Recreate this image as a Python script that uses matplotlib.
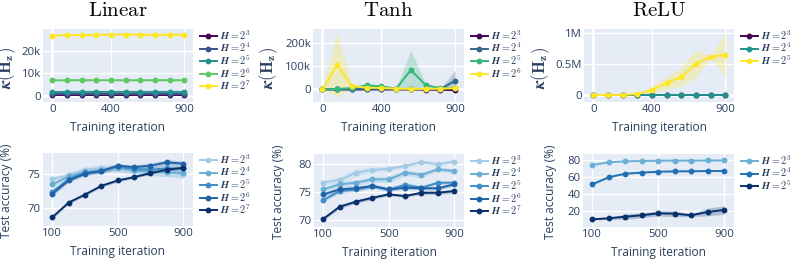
import numpy as np
import matplotlib.pyplot as plt
from matplotlib.ticker import FuncFormatter

plt.rcParams['font.family'] = ['Open Sans', 'DejaVu Sans']
plt.rcParams['mathtext.fontset'] = 'cm'

TXT = '#2a3f5f'
BG = '#e5ecf6'

# x values
it_kappa = [0, 100, 200, 300, 400, 500, 600, 700, 800, 900]
it_acc = [100, 200, 300, 400, 500, 600, 700, 800, 900]

# Linear - condition number
lin_kappa_labels = ['3', '4', '5', '6', '7']
lin_kappa_mean = [
    [300, 300, 300, 300, 300, 300, 300, 300, 300, 300],
    [1000, 1000, 1000, 1000, 1000, 1000, 1000, 1000, 1000, 1000],
    [1700, 1800, 1800, 1800, 1800, 1800, 1800, 1800, 1800, 1800],
    [6900, 7000, 7000, 7000, 7000, 7000, 7000, 7000, 7000, 7000],
    [26700, 27200, 27000, 27200, 27300, 27300, 27300, 27200, 27300, 27200],
]
lin_kappa_sd = [
    [50] * 10,
    [100] * 10,
    [150] * 10,
    [200] * 10,
    [300] * 10,
]

# Linear - accuracy
lin_acc_labels = ['3', '4', '5', '6', '7']
lin_acc_mean = [
    [74.3, 74.9, 75.7, 76.0, 75.9, 75.6, 75.5, 75.4, 75.0],
    [73.5, 74.7, 75.3, 75.7, 76.0, 75.6, 75.4, 75.3, 75.2],
    [72.4, 74.3, 75.3, 75.5, 76.2, 75.8, 75.7, 75.9, 75.9],
    [72.1, 74.1, 75.1, 75.5, 76.3, 76.1, 76.3, 76.8, 76.6],
    [68.6, 70.8, 72.0, 73.3, 74.1, 74.6, 75.2, 75.7, 76.0],
]
lin_acc_sd = [
    [0.4, 0.4, 0.5, 0.5, 0.6, 0.6, 0.6, 0.7, 0.7],
    [0.4, 0.4, 0.4, 0.5, 0.5, 0.5, 0.6, 0.6, 0.6],
    [0.3, 0.3, 0.3, 0.4, 0.4, 0.4, 0.4, 0.5, 0.5],
    [0.3, 0.3, 0.3, 0.3, 0.3, 0.3, 0.4, 0.4, 0.4],
    [0.2, 0.2, 0.2, 0.2, 0.2, 0.2, 0.2, 0.2, 0.2],
]

# Tanh - condition number
tanh_kappa_labels = ['3', '4', '5', '6']
tanh_kappa_mean = [
    [0, -500, -500, -500, -500, -500, -500, -1000, -1500, -3000],
    [0, 500, 500, 1000, 1000, 1000, 1000, 1000, 1000, 37000],
    [0, 2000, 5000, 17000, 13000, 3000, 83000, 18000, 5000, 5000],
    [0, 104000, 14000, 7000, 6000, 3000, 2000, 2000, 3000, 5000],
]
tanh_kappa_sd = [
    [0, 500, 500, 500, 500, 500, 500, 1000, 1000, 2000],
    [0, 1000, 1000, 1000, 1000, 1000, 1000, 1000, 2000, 45000],
    [0, 2000, 3000, 8000, 5000, 2000, 84000, 5000, 2000, 3000],
    [0, 136000, 5000, 3000, 3000, 2000, 1000, 1000, 2000, 3000],
]

# Tanh - accuracy
tanh_acc_labels = ['3', '4', '5', '6', '7']
tanh_acc_mean = [
    [76.7, 77.2, 78.5, 79.0, 79.2, 79.7, 80.4, 80.0, 80.5],
    [75.5, 76.4, 76.7, 77.3, 77.3, 78.5, 78.1, 79.1, 78.8],
    [73.6, 75.2, 75.5, 76.1, 75.5, 76.3, 75.8, 76.7, 76.7],
    [74.6, 75.5, 75.7, 76.1, 75.5, 75.8, 75.7, 75.7, 76.4],
    [70.2, 72.4, 73.3, 74.0, 74.6, 74.3, 74.9, 74.9, 75.2],
]
tanh_acc_sd = [
    [0.4, 0.6, 0.7, 0.5, 0.5, 0.4, 0.4, 0.4, 0.4],
    [0.4, 0.5, 0.5, 0.5, 0.6, 0.5, 0.5, 0.4, 0.4],
    [0.3, 0.4, 0.4, 0.4, 0.3, 0.4, 0.4, 0.3, 0.3],
    [0.3, 0.4, 0.4, 0.3, 0.3, 0.3, 0.3, 0.3, 0.3],
    [0.2, 0.3, 0.3, 0.3, 0.2, 0.2, 0.3, 0.3, 0.3],
]

# ReLU - condition number
relu_kappa_labels = ['3', '4', '5']
relu_kappa_mean = [
    [0, 0, 0, 0, 0, 0, 0, 0, 0, 0],
    [0, 0, 0, 0, 1000, 1000, 1000, 1000, 1000, 1000],
    [0, 0, 1000, 16000, 80000, 200000, 290000, 510000, 620000, 650000],
]
relu_kappa_sd = [
    [0] * 10,
    [0, 0, 0, 0, 500, 500, 500, 500, 500, 500],
    [0, 0, 1000, 8000, 60000, 100000, 155000, 220000, 15000, 350000],
]

# ReLU - accuracy
relu_acc_labels = ['3', '4', '5']
relu_acc_mean = [
    [74.2, 77.3, 78.5, 78.8, 79.2, 79.3, 79.3, 79.4, 79.5],
    [51.6, 59.8, 64.0, 65.2, 66.3, 66.7, 66.8, 67.1, 67.1],
    [10.6, 11.8, 13.7, 15.3, 17.6, 17.2, 15.3, 19.2, 21.5],
]
relu_acc_sd = [
    [0.6, 0.5, 0.4, 0.4, 0.4, 0.4, 0.4, 0.4, 0.4],
    [0.8, 0.7, 0.6, 0.6, 0.6, 0.6, 0.6, 0.6, 0.6],
    [0.8, 1.2, 3.0, 3.0, 3.0, 3.5, 1.5, 4.5, 5.0],
]

viridis = {
    5: ['#440154', '#3b528b', '#21918c', '#5ec962', '#fde725'],
    4: ['#440154', '#31688e', '#35b779', '#fde725'],
    3: ['#440154', '#21918c', '#fde725'],
}
blues = {
    5: ['#a3cbe6', '#6aaed6', '#3f8cc6', '#1f62a8', '#08306b'],
    3: ['#6baed6', '#2171b5', '#08306b'],
}


def fmt_k(v, _):
    if v == 0:
        return '0'
    return f'{v / 1000:g}k'


def fmt_m(v, _):
    if v == 0:
        return '0'
    return f'{v / 1e6:g}M'


def style(ax, xticks, yticks, xlim, ylim, zero=False):
    ax.set_facecolor(BG)
    for s in ax.spines.values():
        s.set_visible(False)
    ax.set_xticks(xticks)
    ax.set_yticks(yticks)
    ax.set_xlim(xlim)
    ax.set_ylim(ylim)
    ax.grid(True, color='white', lw=1.0, zorder=0)
    ax.set_axisbelow(True)
    ax.tick_params(length=0, labelsize=8.2, colors=TXT, pad=1.5)
    if zero:
        ax.axhline(0, color='white', lw=2, zorder=0.5)
        ax.axvline(0, color='white', lw=2, zorder=0.5)
    ax.set_xlabel('Training iteration', fontsize=8.6, color=TXT, labelpad=4)


def draw(ax, x, means, sds, labels, colors):
    x = np.array(x)
    for m, s, lab, c in zip(means, sds, labels, colors):
        m = np.array(m, dtype=float)
        s = np.array(s, dtype=float)
        ax.fill_between(x, m - s, m + s, color=c, alpha=0.25, lw=0, zorder=1)
        ax.plot(x, m, '-o', color=c, lw=1.4, ms=3.2, zorder=2,
                label=r'$\boldsymbol{H = 2^{%s}}$' % lab)
    leg = ax.legend(loc='upper left', bbox_to_anchor=(1.02, 1.05), frameon=False,
                    fontsize=7.4, handlelength=1.6, handletextpad=0.3,
                    labelspacing=-0.1, borderaxespad=0)
    for t in leg.get_texts():
        t.set_color(TXT)


fig = plt.figure(figsize=(7.93, 2.59), dpi=100)
W, H = 793, 259


def add_ax(x0, x1, y0, y1):
    return fig.add_axes([x0 / W, 1 - y1 / H, (x1 - x0) / W, (y1 - y0) / H])


kap_label = r'$\boldsymbol{\kappa}(\mathbf{H_z})$'

# Linear
ax = add_ax(43, 193, 29, 102)
draw(ax, it_kappa, lin_kappa_mean, lin_kappa_sd, lin_kappa_labels, viridis[5])
style(ax, [0, 400, 900], [0, 10000, 20000], (-63, 960), (-2700, 29800), zero=True)
ax.yaxis.set_major_formatter(FuncFormatter(fmt_k))
ax.set_ylabel(kap_label, fontsize=12, color=TXT)
ax.yaxis.set_label_coords(-0.165, 0.47)
ax.set_title(r'$\mathrm{Linear}$', fontsize=15, pad=9)

ax = add_ax(43, 193, 153, 226)
draw(ax, it_acc, lin_acc_mean, lin_acc_sd, lin_acc_labels, blues[5])
style(ax, [100, 500, 900], [70, 75], (43, 960), (67.3, 78.2))
ax.set_ylabel('Test accuracy (%)', fontsize=8.6, color=TXT)
ax.yaxis.set_label_coords(-0.2, 0.48)

# Tanh
ax = add_ax(313, 464, 29, 102)
draw(ax, it_kappa, tanh_kappa_mean, tanh_kappa_sd, tanh_kappa_labels, viridis[4])
style(ax, [0, 400, 900], [0, 100000, 200000], (-63, 960), (-54000, 258000), zero=True)
ax.yaxis.set_major_formatter(FuncFormatter(fmt_k))
ax.set_ylabel(kap_label, fontsize=12, color=TXT)
ax.yaxis.set_label_coords(-0.218, 0.47)
ax.set_title(r'$\mathrm{Tanh}$', fontsize=15, pad=9)

ax = add_ax(314, 464, 154, 227)
draw(ax, it_acc, tanh_acc_mean, tanh_acc_sd, tanh_acc_labels, blues[5])
style(ax, [100, 500, 900], [70, 75, 80], (43, 960), (68.75, 81.85))
ax.set_ylabel('Test accuracy (%)', fontsize=8.6, color=TXT)
ax.yaxis.set_label_coords(-0.193, 0.48)

# ReLU
ax = add_ax(584, 734, 29, 102)
draw(ax, it_kappa, relu_kappa_mean, relu_kappa_sd, relu_kappa_labels, viridis[3])
style(ax, [0, 400, 900], [0, 500000, 1000000], (-63, 960), (-113000, 1070000), zero=True)
ax.yaxis.set_major_formatter(FuncFormatter(fmt_m))
ax.set_ylabel(kap_label, fontsize=12, color=TXT)
ax.yaxis.set_label_coords(-0.215, 0.47)
ax.set_title(r'$\mathrm{ReLU}$', fontsize=15, pad=9)

ax = add_ax(583, 734, 154, 227)
draw(ax, it_acc, relu_acc_mean, relu_acc_sd, relu_acc_labels, blues[3])
style(ax, [100, 500, 900], [20, 40, 60, 80], (43, 960), (1.6, 87))
ax.set_ylabel('Test accuracy (%)', fontsize=8.6, color=TXT)
ax.yaxis.set_label_coords(-0.174, 0.48)

fig.savefig('out.png', dpi=100, facecolor='white')
